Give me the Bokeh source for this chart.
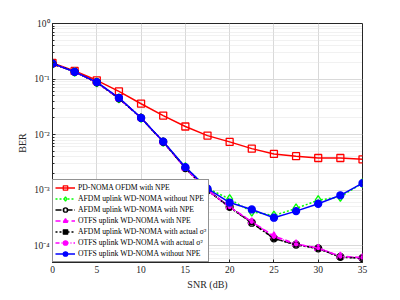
from bokeh.plotting import figure
from bokeh.models import FixedTicker, Legend, LegendItem
from bokeh.embed import file_html
from bokeh.resources import INLINE

snr = [0, 2.5, 5, 7.5, 10, 12.5, 15, 17.5, 20, 22.5, 25, 27.5, 30, 32.5, 35]
pd_noma = [0.195, 0.14, 0.095, 0.060, 0.036, 0.022, 0.014, 0.0096, 0.0074, 0.0056, 0.0045, 0.0041, 0.0038, 0.0038, 0.0036]
afdm_no_npe = [0.19, 0.135, 0.087, 0.045, 0.020, 0.0074, 0.0026, 0.00108, 0.00069, 0.00041, 0.00035, 0.00047, 0.00066, 0.00076, 0.00134]
afdm_npe = [0.19, 0.135, 0.087, 0.045, 0.020, 0.0074, 0.0025, 0.00100, 0.00050, 0.00026, 0.000136, 0.000105, 0.000090, 0.000063, 0.000060]
otfs_npe = [0.19, 0.135, 0.087, 0.045, 0.020, 0.0074, 0.0025, 0.00100, 0.00050, 0.00027, 0.000150, 0.000108, 0.000090, 0.000065, 0.000061]
afdm_actual = [0.19, 0.135, 0.087, 0.045, 0.020, 0.0074, 0.0025, 0.00100, 0.00049, 0.00026, 0.000135, 0.000104, 0.000089, 0.000062, 0.000060]
otfs_actual = [0.19, 0.135, 0.087, 0.045, 0.020, 0.0074, 0.0025, 0.00100, 0.00050, 0.00027, 0.000145, 0.000106, 0.000091, 0.000064, 0.000061]
otfs_no_npe = [0.19, 0.135, 0.088, 0.046, 0.020, 0.0075, 0.0026, 0.00107, 0.00060, 0.00045, 0.00032, 0.00042, 0.00057, 0.00081, 0.00134]

x_ticks = [0, 5, 10, 15, 20, 25, 30, 35]
y_ticks = [1e0, 1e-1, 1e-2, 1e-3, 1e-4]
y_tick_labels = ["10\u2070", "10\u207b\u00b9", "10\u207b\u00b2", "10\u207b\u00b3", "10\u207b\u2074"]

FONT = "Liberation Serif"
p = figure(width=392, height=292, y_axis_type="log", x_range=(0, 35), y_range=(5e-5, 1),
           output_backend="svg", toolbar_location=None,
           min_border_left=52, min_border_right=30, min_border_top=23, min_border_bottom=26)

minor = []
for e in range(-5, 0):
    for m in range(2, 10):
        v = m * 10.0 ** e
        if 5e-5 <= v <= 1:
            minor.append(v)
p.yaxis.ticker = FixedTicker(ticks=y_ticks, minor_ticks=minor)
p.xaxis.ticker = FixedTicker(ticks=x_ticks, minor_ticks=[])
p.yaxis.major_label_overrides = {v: l for v, l in zip(y_ticks, y_tick_labels)}

for ax in (p.xaxis, p.yaxis):
    ax.major_label_text_font = FONT
    ax.major_label_text_font_size = "9.5px"
    ax.major_label_text_color = "#262626"
    ax.axis_label_text_font = FONT
    ax.axis_label_text_font_size = "10px"
    ax.axis_label_text_font_style = "normal"
    ax.axis_label_text_color = "#262626"
    ax.axis_line_color = "#262626"
    ax.major_tick_line_color = "#262626"
    ax.minor_tick_line_color = "#262626"
    ax.major_tick_in = 3
    ax.major_tick_out = 0
    ax.minor_tick_in = 2
    ax.minor_tick_out = 0
    ax.major_label_standoff = 3
    ax.axis_label_standoff = 3
p.xaxis.axis_label = "SNR (dB)"
p.yaxis.axis_label = "BER"

p.xgrid.grid_line_color = "#d9d9d9"
p.ygrid.grid_line_color = "#d9d9d9"
p.ygrid.minor_grid_line_color = "#e3e3e3"
p.ygrid.minor_grid_line_dash = "1 1"
p.outline_line_color = "#262626"
p.outline_line_alpha = 1

series = [
    ("PD-NOMA OFDM with NPE", pd_noma, "#ff0000", "solid", "square", 7, False, 1.5),
    ("AFDM uplink WD-NOMA without NPE", afdm_no_npe, "#00ff00", "2 2", "diamond", 9, False, 1.5),
    ("AFDM uplink WD-NOMA with NPE", afdm_npe, "#000000", "6 2 1 2", "circle", 7, False, 1.5),
    ("OTFS uplink WD-NOMA with NPE", otfs_npe, "#ff00ff", "5 3", "triangle", 7, True, 1.5),
    ("AFDM uplink WD-NOMA with actual \u03c3\u00b2", afdm_actual, "#000000", "2 2", "square", 4, True, 1.5),
    ("OTFS uplink WD-NOMA with actual \u03c3\u00b2", otfs_actual, "#ff00ff", "4 2 1 2", "circle", 3, True, 1.5),
    ("OTFS uplink WD-NOMA without NPE", otfs_no_npe, "#0000ff", "solid", "circle", 7, True, 1.5),
]

items = []
for label, ys, color, dash, marker, size, filled, lw in series:
    r1 = p.line(snr, ys, line_color=color, line_dash=dash, line_width=lw)
    r2 = p.scatter(snr, ys, marker=marker, size=size, line_color=color, line_width=1.3,
                   fill_color=color if filled else None)
    items.append(LegendItem(label=label, renderers=[r1, r2]))

legend = Legend(items=items, location="bottom_left", margin=0, padding=2, spacing=0,
                label_text_font=FONT, label_text_font_size="7.7px", label_text_color="#000000",
                label_height=11, glyph_height=11, glyph_width=20, label_standoff=3,
                border_line_color="#262626", background_fill_alpha=1)
p.add_layout(legend, "center")

open("out.html", "w").write(file_html(p, INLINE))
